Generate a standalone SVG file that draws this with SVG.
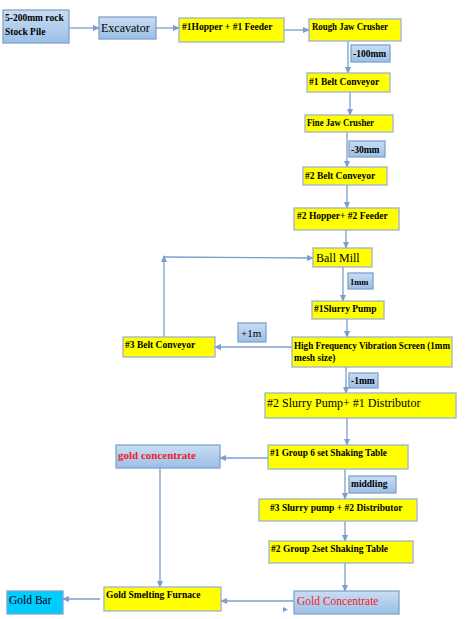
<svg xmlns="http://www.w3.org/2000/svg" width="471" height="619" viewBox="0 0 471 619">
<defs>
<linearGradient id="bg" x1="0" y1="0" x2="0" y2="1">
<stop offset="0" stop-color="#C9DDF3"/>
<stop offset="1" stop-color="#9CBFE6"/>
</linearGradient>
<marker id="ah" markerWidth="7" markerHeight="6" refX="6" refY="3" orient="auto" markerUnits="userSpaceOnUse">
<path d="M0,0 L7,3 L0,6 Z" fill="#7A9FCC"/>
</marker>
<style>
.y{fill:#FFFF00;stroke:#9DB3CE;stroke-width:1.3}
.b{fill:url(#bg);stroke:#7FA3CC;stroke-width:1.3}
.c{fill:#00CCFF;stroke:#7FA3CC;stroke-width:1.3}
text{font-family:"Liberation Serif","DejaVu Serif",serif;fill:#000}
.s{font-size:9.5px;font-weight:bold}
.m{font-size:12px}
.r{fill:#EE2222}
.k{stroke:#7A9FCC;stroke-width:1.3;fill:none}
.a{marker-end:url(#ah)}
</style>
</defs>
<g id="connectors">
<line class="k a" x1="69" y1="28" x2="99" y2="28"/>
<line class="k a" x1="156" y1="28" x2="179" y2="28"/>
<line class="k a" x1="284" y1="30" x2="309" y2="30"/>
<line class="k a" x1="348" y1="41" x2="348" y2="73"/>
<line class="k a" x1="350" y1="92" x2="350" y2="115"/>
<line class="k a" x1="347" y1="132" x2="347" y2="167"/>
<line class="k a" x1="347" y1="185" x2="347" y2="208"/>
<line class="k a" x1="346" y1="230" x2="346" y2="248"/>
<line class="k a" x1="343" y1="267" x2="343" y2="301"/>
<line class="k a" x1="347" y1="319" x2="347" y2="337"/>
<line class="k a" x1="292" y1="347" x2="215" y2="347"/>
<line class="k a" x1="164" y1="337" x2="164" y2="256"/>
<line class="k a" x1="164" y1="257" x2="313" y2="258"/>
<line class="k a" x1="346" y1="367" x2="346" y2="393"/>
<line class="k a" x1="347" y1="418" x2="347" y2="445"/>
<line class="k a" x1="268" y1="458" x2="220" y2="458"/>
<line class="k a" x1="345" y1="469" x2="345" y2="499"/>
<line class="k a" x1="345" y1="521" x2="345" y2="541"/>
<line class="k a" x1="345" y1="563" x2="345" y2="591"/>
<line class="k a" x1="160" y1="468" x2="160" y2="587"/>
<line class="k a" x1="294" y1="601" x2="221" y2="601"/>
<line class="k a" x1="100" y1="599" x2="63" y2="599"/>
<path d="M283,607 L288,609.5 L283,612 Z" fill="#7A9FCC"/>
</g>
<g id="stockpile"><rect class="b" x="3" y="10" width="66" height="33"/><text class="s" x="5" y="20.5">5-200mm rock</text><text class="s" x="5" y="34.5">Stock Pile</text></g>
<g id="excavator"><rect class="b" x="99" y="17" width="57" height="22"/><text class="m" x="101" y="31.5">Excavator</text></g>
<g id="hopper1"><rect class="y" x="179" y="18" width="105" height="24"/><text class="s" x="182" y="29.5">#1Hopper + #1 Feeder</text></g>
<g id="roughjaw"><rect class="y" x="309" y="19" width="92" height="22"/><text class="s" x="312" y="29.5" textLength="76" lengthAdjust="spacingAndGlyphs">Rough Jaw Crusher</text></g>
<g id="l100"><rect class="b" x="351" y="45" width="39" height="17"/><text class="s" x="353" y="57">-100mm</text></g>
<g id="belt1"><rect class="y" x="307" y="73" width="83" height="19"/><text class="s" x="309" y="84.5">#1 Belt Conveyor</text></g>
<g id="finejaw"><rect class="y" x="305" y="115" width="88" height="17"/><text class="s" x="307" y="125.5" textLength="67" lengthAdjust="spacingAndGlyphs">Fine Jaw Crusher</text></g>
<g id="l30"><rect class="b" x="349" y="141" width="36" height="16"/><text class="s" x="351" y="152.5">-30mm</text></g>
<g id="belt2"><rect class="y" x="303" y="167" width="84" height="18"/><text class="s" x="305" y="178.5">#2 Belt Conveyor</text></g>
<g id="hopper2"><rect class="y" x="294" y="208" width="105" height="22"/><text class="s" x="297" y="218.5">#2 Hopper+ #2 Feeder</text></g>
<g id="ballmill"><rect class="y" x="313" y="248" width="59" height="19"/><text class="m" x="316" y="262">Ball Mill</text></g>
<g id="l1mm"><rect class="b" x="348" y="273" width="25" height="16"/><text class="s" x="350" y="284.5" style="font-size:8.5px">1mm</text></g>
<g id="slurry1"><rect class="y" x="312" y="301" width="72" height="18"/><text class="s" x="314" y="311.5">#1Slurry Pump</text></g>
<g id="screen"><rect class="y" x="292" y="337" width="160" height="30"/><text class="s" x="294" y="348.5" textLength="156" lengthAdjust="spacingAndGlyphs">High Frequency Vibration Screen (1mm</text><text class="s" x="294" y="360.5">mesh size)</text></g>
<g id="p1m"><rect class="b" x="238" y="323" width="28" height="19"/><text x="241" y="336.5" style="font-size:11px">+1m</text></g>
<g id="belt3"><rect class="y" x="123" y="337" width="92" height="20"/><text class="s" x="125" y="347.5">#3 Belt Conveyor</text></g>
<g id="m1mm"><rect class="b" x="349" y="373" width="29" height="15"/><text class="s" x="351" y="383.5">-1mm</text></g>
<g id="slurry2"><rect class="y" x="265" y="393" width="191" height="25"/><text class="m" x="267" y="406.5">#2 Slurry Pump+ #1 Distributor</text></g>
<g id="table1"><rect class="y" x="268" y="445" width="140" height="24"/><text class="s" x="270" y="455.5" textLength="117" lengthAdjust="spacingAndGlyphs">#1 Group 6 set Shaking Table</text></g>
<g id="goldconc1"><rect class="b" x="116" y="445" width="104" height="23"/><text class="r" x="118" y="458.5" style="font-size:11px;font-weight:bold">gold concentrate</text></g>
<g id="middling"><rect class="b" x="349" y="476" width="47" height="17"/><text class="s" x="351" y="486.5">middling</text></g>
<g id="slurry3"><rect class="y" x="259" y="499" width="158" height="22"/><text class="s" x="270" y="510.5">#3 Slurry pump + #2 Distributor</text></g>
<g id="table2"><rect class="y" x="269" y="541" width="144" height="22"/><text class="s" x="271" y="551.5">#2 Group 2set Shaking Table</text></g>
<g id="goldconc2"><rect class="b" x="294" y="591" width="105" height="23"/><text class="r" x="297" y="605" style="font-size:11.5px">Gold Concentrate</text></g>
<g id="furnace"><rect class="y" x="104" y="587" width="117" height="24"/><text class="s" x="106" y="598">Gold Smelting Furnace</text></g>
<g id="goldbar"><rect class="c" x="7" y="591" width="56" height="23"/><text x="9" y="603.5" style="font-size:11.5px">Gold Bar</text></g>
</svg>
